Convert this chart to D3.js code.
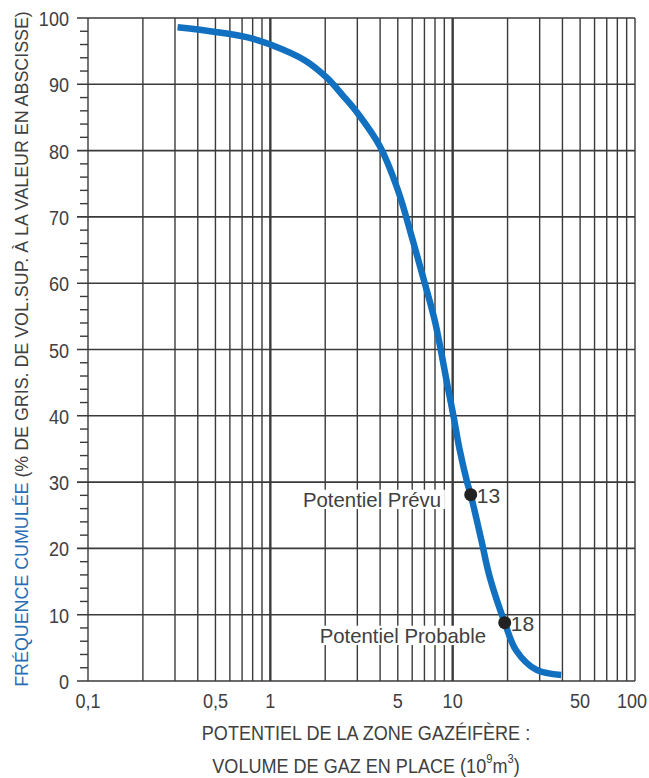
<!DOCTYPE html>
<html>
<head>
<meta charset="utf-8">
<script src="https://cdn.jsdelivr.net/npm/d3@7.9.0/dist/d3.min.js"></script>
<style>
  html, body { margin: 0; padding: 0; background: #fff; }
  svg text { font-family: "Liberation Sans", Arial, sans-serif; }
</style>
</head>
<body>
<svg id="chart" width="649" height="778"></svg>
<script>
// tick labels
const xTickValues = [0.1, 0.5, 1, 5, 10, 50, 100];
const xTickLabels = ["0,1", "0,5", "1", "5", "10", "50", "100"];
const yTickValues = [0, 10, 20, 30, 40, 50, 60, 70, 80, 90, 100];

// cumulative frequency curve (volume 10^9 m3, % frequency)
const volume = [0.31, 0.5, 0.77, 1, 1.55, 2.04, 2.5, 2.98, 3.98, 5.0, 6.04, 7.03, 7.97, 8.6, 9.3, 10.1, 10.9, 12.0, 12.56, 14.35, 15.96, 19.3, 22.3, 28.7, 39.4];
const frequency = [98.6, 97.9, 97.0, 96.0, 93.6, 91.0, 88.3, 85.8, 80.7, 74.1, 66.5, 60, 54.4, 50, 45, 40, 35, 30, 28.1, 21.3, 15.7, 8.8, 4.6, 1.7, 0.9];

// marked points
const markerNames = ["Potentiel Prévu", "Potentiel Probable"];
const markerLabels = ["13", "18"];
const markerVolume = [12.56, 19.3];
const markerFreq = [28.1, 8.8];

const svg = d3.select("#chart");
const x = d3.scaleLog().domain([0.1, 100]).range([88, 635]);
const y = d3.scaleLinear().domain([0, 100]).range([681, 18]);

const gridColor = "#3a3a3a";
const textColor = "#404040";

// text helper: condensed text placed at (px, py)
function label(parent, px, py, str, size, anchor, squeeze) {
  return parent.append("text")
    .attr("transform", `translate(${px},${py}) scale(${squeeze || 0.86},1)`)
    .attr("text-anchor", anchor || "start")
    .attr("font-size", size)
    .attr("fill", textColor)
    .text(str);
}

// vertical log grid
const xGrid = [];
[0.1, 1, 10].forEach(base => {
  for (let k = 1; k <= 9; k++) xGrid.push(base * k);
});
xGrid.push(100);

const grid = svg.append("g");
grid.selectAll("line.v").data(xGrid).join("line")
  .attr("x1", d => x(d)).attr("x2", d => x(d))
  .attr("y1", y(0)).attr("y2", y(100))
  .attr("stroke", gridColor)
  .attr("stroke-width", d => [1, 10].includes(d) ? 2.4 : 1.4);

// horizontal grid every 10
grid.selectAll("line.h").data(yTickValues).join("line")
  .attr("x1", 77).attr("x2", x(100))
  .attr("y1", d => y(d)).attr("y2", d => y(d))
  .attr("stroke", gridColor)
  .attr("stroke-width", 1.6);

// minor y ticks every 2
const yMinor = d3.range(0, 101, 2).filter(v => v % 10 !== 0);
grid.selectAll("line.m").data(yMinor).join("line")
  .attr("x1", 80).attr("x2", x(0.1))
  .attr("y1", d => y(d)).attr("y2", d => y(d))
  .attr("stroke", gridColor)
  .attr("stroke-width", 1.4);

// y axis labels
const yLab = svg.append("g");
yTickValues.forEach(v => label(yLab, 69, y(v) + 8, String(v), 21, "end"));

// x axis labels
const xLab = svg.append("g");
xTickValues.forEach((v, i) => {
  const shift = i === xTickValues.length - 1 ? -3 : 0;
  label(xLab, x(v) + shift, 708, xTickLabels[i], 21, "middle");
});

// annotation names with white background boxes
const notes = svg.append("g");
markerNames.forEach((name, i) => {
  const tx = i === 0 ? 441 : 486;
  const ty = i === 0 ? 507 : 643;
  const t = label(notes, tx, ty, name, 21, "end", 0.97);
  const bb = t.node().getBBox();
  notes.insert("rect", () => t.node())
    .attr("transform", t.attr("transform"))
    .attr("x", bb.x - 4).attr("y", bb.y + 2)
    .attr("width", bb.width + 8).attr("height", bb.height - 4)
    .attr("fill", "#fff");
});

// curve
const line = d3.line()
  .x((d, i) => x(volume[i]))
  .y((d, i) => y(frequency[i]))
  .curve(d3.curveCatmullRom.alpha(0.5));

svg.append("path")
  .datum(volume)
  .attr("d", line)
  .attr("fill", "none")
  .attr("stroke", "#1170c0")
  .attr("stroke-width", 6.5)
  .attr("stroke-linecap", "butt");

// marker dots and values
svg.append("g").selectAll("circle").data(markerVolume).join("circle")
  .attr("cx", d => x(d))
  .attr("cy", (d, i) => y(markerFreq[i]))
  .attr("r", 6.5)
  .attr("fill", "#222");

const mLab = svg.append("g");
markerVolume.forEach((v, i) => {
  label(mLab, x(v) + 6, y(markerFreq[i]) + 8, markerLabels[i], 21, "start", 1);
});

// axis titles
const xTitle = svg.append("g");
label(xTitle, 366, 740, "POTENTIEL DE LA ZONE GAZÉIFÈRE :", 21, "middle");
const xt2 = label(xTitle, 366, 773, "", 21, "middle");
xt2.append("tspan").text("VOLUME DE GAZ EN PLACE (10");
xt2.append("tspan").attr("dy", -10).attr("font-size", 13).text("9");
xt2.append("tspan").attr("dy", 10).text("m");
xt2.append("tspan").attr("dy", -10).attr("font-size", 13).text("3");
xt2.append("tspan").attr("dy", 10).text(")");

const yTitle = svg.append("text")
  .attr("transform", "translate(28,349) rotate(-90) scale(0.94,1)")
  .attr("text-anchor", "middle")
  .attr("font-size", 19);
yTitle.append("tspan").attr("fill", "#2a6db3").text("FRÉQUENCE CUMULÉE ");
yTitle.append("tspan").attr("fill", textColor).text("(% DE GRIS. DE VOL.SUP. À LA VALEUR EN ABSCISSE)");
</script>
</body>
</html>
